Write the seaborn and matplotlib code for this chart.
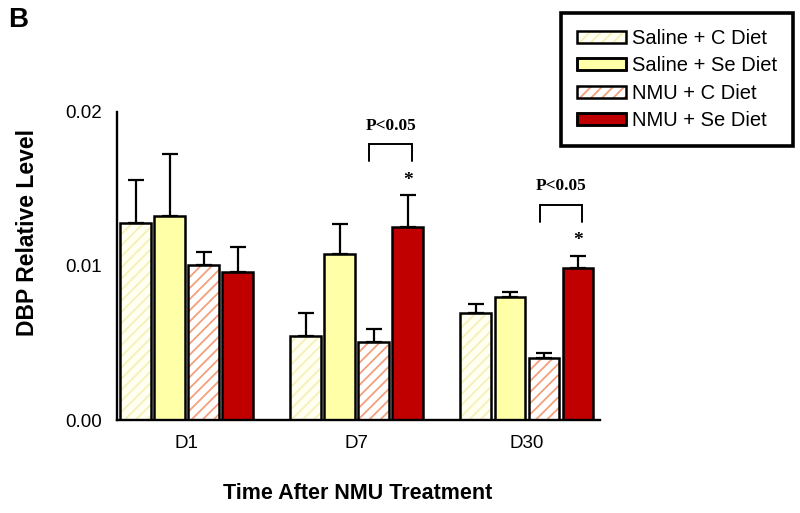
import numpy as np
import pandas as pd
import seaborn as sns
import matplotlib.pyplot as plt
from matplotlib.patches import Patch, Rectangle
from matplotlib.ticker import FormatStrFormatter

# values (mean and upper SEM bar)
days = ['D1', 'D7', 'D30']
groups = ['Saline + C Diet', 'Saline + Se Diet', 'NMU + C Diet', 'NMU + Se Diet']
saline_c = [0.0128, 0.00545, 0.00697]
saline_se = [0.01325, 0.01076, 0.00801]
nmu_c = [0.01006, 0.00504, 0.00400]
nmu_se = [0.00963, 0.01251, 0.00985]
saline_c_err = [0.00275, 0.00152, 0.00058]
saline_se_err = [0.00402, 0.00195, 0.00028]
nmu_c_err = [0.00083, 0.00085, 0.00033]
nmu_se_err = [0.00162, 0.0021, 0.00082]
signif_days = ['D7', 'D30']

face = ['#fffff2', '#ffffa8', '#ffffff', '#c00000']
hatch_col = ['#f5f0b8', None, '#f4a07c', None]
hatches = ['///', '', '///', '']

means = [saline_c, saline_se, nmu_c, nmu_se]
errs = [saline_c_err, saline_se_err, nmu_c_err, nmu_se_err]
df = pd.DataFrame({
    'day': days * 4,
    'group': np.repeat(groups, 3),
    'value': np.concatenate(means),
    'sem': np.concatenate(errs),
})

sns.set_style('white')
plt.rcParams['font.family'] = ['Liberation Sans', 'DejaVu Sans']
plt.rcParams['hatch.linewidth'] = 1.3
for k in ['text.color', 'axes.labelcolor', 'xtick.color', 'ytick.color']:
    plt.rcParams[k] = 'black'

fig = plt.figure(figsize=(8, 5.13), dpi=100)
ax = fig.add_axes([0.146, 0.181, 0.604, 0.601])

sns.barplot(data=df, x='day', y='value', hue='group', order=days, hue_order=groups,
            palette=face, errorbar=None, width=0.8, gap=0.1, saturation=1,
            edgecolor='black', linewidth=1.8, legend=False, ax=ax)

# bars come out grouped by hue, then by day
bars = [p for p in ax.patches]
centers = {}
for gi, g in enumerate(groups):
    for di, d in enumerate(days):
        bar = bars[gi * 3 + di]
        cx = bar.get_x() + bar.get_width() / 2
        centers[(g, d)] = cx
        if hatches[gi]:
            bar.set_hatch(hatches[gi])
            bar.set_edgecolor(hatch_col[gi])
            bar.set_linewidth(0)
            ax.add_patch(Rectangle(bar.get_xy(), bar.get_width(), bar.get_height(),
                                   fill=False, ec='black', lw=1.8, zorder=bar.get_zorder() + 0.1))
        ax.errorbar([cx], [means[gi][di]], yerr=[[0], [errs[gi][di]]], fmt='none',
                    ecolor='black', elinewidth=1.6, capsize=6, capthick=1.6, zorder=1)

# significance brackets
for d in signif_days:
    di = days.index(d)
    top = nmu_se[di] + nmu_se_err[di]
    x0 = centers[('NMU + C Diet', d)] - 0.025
    x1 = centers[('NMU + Se Diet', d)] + 0.025
    yb = top + 0.0033
    ax.plot([x0, x0, x1, x1], [yb - 0.00113, yb, yb, yb - 0.00113], color='black', lw=1.4,
            solid_joinstyle='miter', clip_on=False)
    ax.text((x0 + x1) / 2, yb + 0.0012, 'P<0.05', ha='center', va='center',
            fontsize=12.5, fontweight='bold', family='Liberation Serif')
    ax.text(centers[('NMU + Se Diet', d)], top + 0.0004, '*', ha='center', va='bottom',
            fontsize=14, fontweight='bold', family='Liberation Serif')

ax.set_xlim(-0.41, 2.43)
ax.set_ylim(0, 0.02)
ax.set_yticks([0, 0.01, 0.02])
ax.yaxis.set_major_formatter(FormatStrFormatter('%.2f'))
sns.despine(ax=ax)
for s in ['left', 'bottom']:
    ax.spines[s].set_linewidth(1.7)
    ax.spines[s].set_color('black')
ax.tick_params(axis='y', length=6.5, width=1.7, pad=4, labelsize=13.5)
ax.tick_params(axis='x', length=0, pad=11, labelsize=13.5)

ax.set_xlabel('Time After NMU Treatment', fontsize=15.5, fontweight='bold')
ax.set_ylabel('DBP Relative Level', fontsize=16.5, fontweight='bold')
ax.xaxis.label.set_va('center')
ax.xaxis.set_label_coords(0.499, -0.237)
ax.yaxis.label.set_va('center')
ax.yaxis.set_label_coords(-0.184, 0.61)

handles = []
for gi, g in enumerate(groups):
    if hatches[gi]:
        handles.append(Patch(facecolor=face[gi], edgecolor=hatch_col[gi], hatch=hatches[gi], lw=0))
    else:
        handles.append(Patch(facecolor=face[gi], edgecolor='black', lw=1.8))
outline = [Patch(fill=False, edgecolor='black', lw=1.8) for g in groups]
leg = fig.legend([(h, o) for h, o in zip(handles, outline)], groups,
                 loc='upper right', bbox_to_anchor=(0.991, 0.975), fontsize=14.5,
                 frameon=True, fancybox=False, edgecolor='black', framealpha=1,
                 handlelength=2.4, handleheight=0.55, handletextpad=0.3,
                 labelspacing=0.42, borderpad=0.8, borderaxespad=0)
leg.get_frame().set_linewidth(2.6)

fig.text(0.01, 0.986, 'B', fontsize=20, fontweight='bold', va='top', ha='left')

fig.savefig('out.png', dpi=100)
